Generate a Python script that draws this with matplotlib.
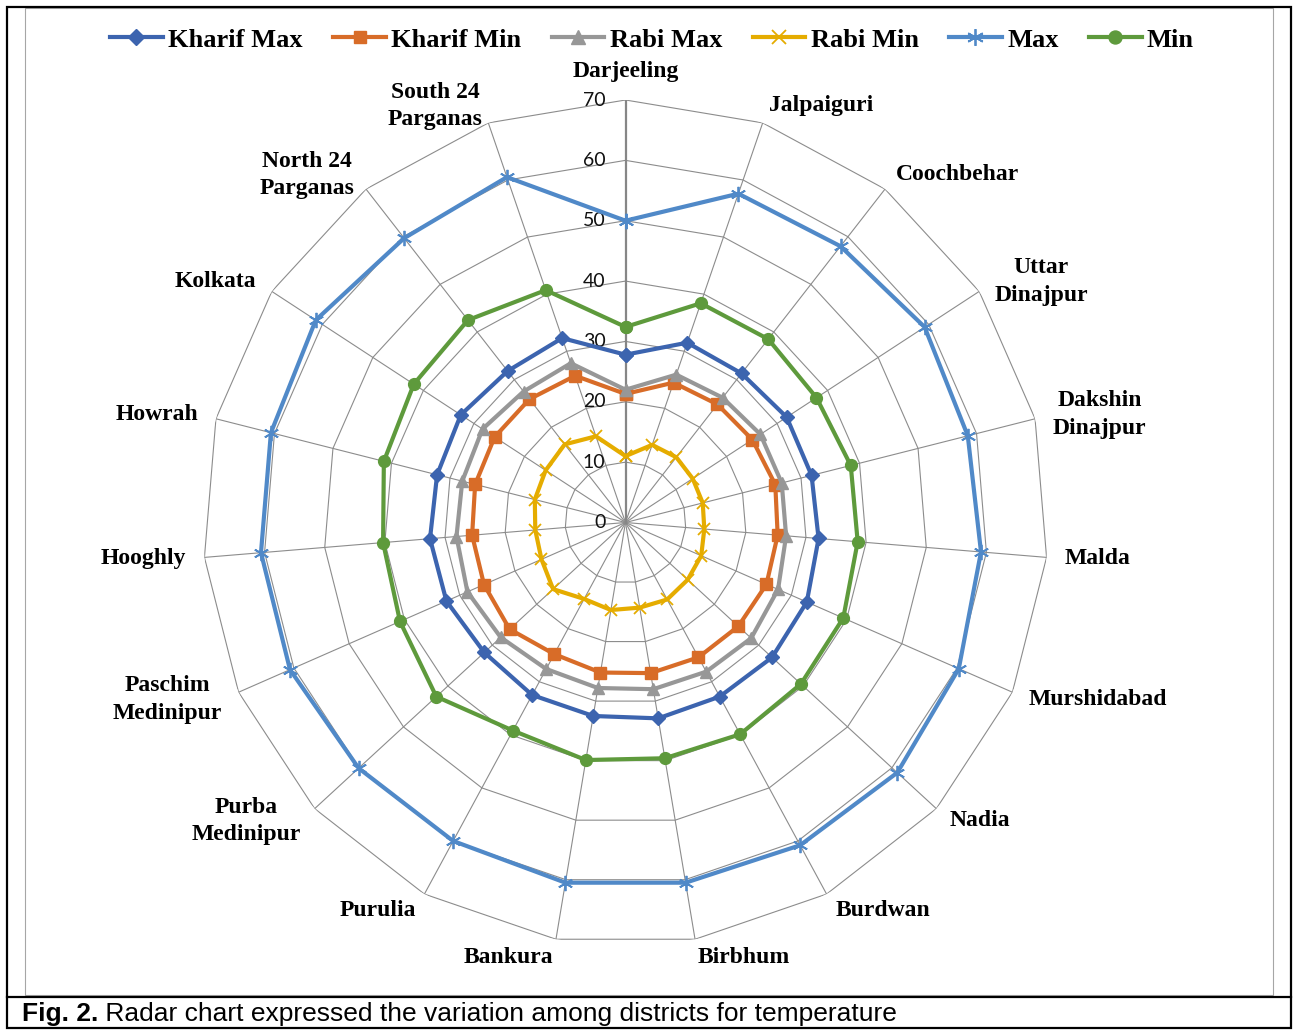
import numpy as np
import matplotlib
matplotlib.use("Agg")
import matplotlib.pyplot as plt
from matplotlib.patches import Rectangle
from matplotlib.transforms import ScaledTranslation

districts = ['Darjeeling', 'Jalpaiguri', 'Coochbehar', 'Uttar\nDinajpur', 'Dakshin\nDinajpur',
             'Malda', 'Murshidabad', 'Nadia', 'Burdwan', 'Birbhum', 'Bankura', 'Purulia',
             'Purba\nMedinipur', 'Paschim\nMedinipur', 'Hooghly', 'Howrah', 'Kolkata',
             'North 24\nParganas', 'South 24\nParganas']

kharif_max = [27.8, 31.5, 31.3, 31.9, 31.8, 32.1, 32.8, 33.0, 32.8, 32.9, 32.5, 32.5, 31.8, 32.4, 32.5, 32.2, 32.6, 31.8, 32.3]
kharif_min = [21.3, 24.5, 24.8, 25.1, 25.6, 25.3, 25.5, 25.4, 25.4, 25.3, 25.2, 24.8, 26.1, 25.6, 25.5, 25.7, 25.9, 25.9, 25.7]
rabi_max = [22.0, 25.9, 26.2, 26.7, 26.7, 26.7, 27.6, 28.3, 28.1, 28.0, 27.8, 27.6, 28.1, 28.6, 28.1, 27.9, 28.3, 27.5, 27.9]
rabi_min = [11.0, 13.6, 13.7, 13.3, 13.2, 13.1, 13.7, 14.0, 14.5, 14.3, 14.7, 14.4, 16.3, 15.2, 15.0, 15.5, 15.8, 16.4, 15.1]
max_all = [50.0, 57.6, 58.0, 59.2, 58.5, 59.1, 60.3, 61.2, 60.8, 60.5, 60.5, 60.0, 60.1, 60.7, 60.6, 60.6, 61.3, 59.7, 60.5]
min_all = [32.4, 38.4, 38.5, 37.8, 38.5, 38.6, 39.4, 39.5, 39.9, 39.6, 39.9, 39.2, 42.6, 40.8, 40.3, 41.3, 41.9, 42.5, 40.7]

series_names = ['Kharif Max', 'Kharif Min', 'Rabi Max', 'Rabi Min', 'Max', 'Min']
r_ticks = [0, 10, 20, 30, 40, 50, 60, 70]

series = [kharif_max, kharif_min, rabi_max, rabi_min, max_all, min_all]
colors = ['#3C64AF', '#D86C28', '#979797', '#E5AC00', '#5089C8', '#5E9A3C']
markers = ['D', 's', '^', 'x', (6, 2, 0), 'o']
msizes = [7, 8.5, 9, 9, 11, 8.5]

W, H = 1298, 1030
fig = plt.figure(figsize=(W / 100, H / 100), dpi=100)
fig.patch.set_facecolor('white')

cx, cy, R = 625.5, 522.5, 422.5
ax = fig.add_axes([(cx - R) / W, (H - cy - R) / H, 2 * R / W, 2 * R / H], projection='polar')
ax.set_theta_zero_location('N')
ax.set_theta_direction(-1)
ax.set_ylim(0, 70)
ax.grid(False)
ax.set_xticks([])
ax.set_yticks([])
ax.spines['polar'].set_visible(False)
ax.patch.set_visible(False)

n = len(districts)
theta = np.arange(n) * 2 * np.pi / n
theta_c = np.append(theta, theta[0])

gcol = '#8C8C8C'
for rv in r_ticks[1:]:
    ax.plot(theta_c, [rv] * (n + 1), color=gcol, lw=0.8, zorder=1)
for i, t in enumerate(theta):
    if i == 0:
        ax.plot([t, t], [0, 70], color='#868686', lw=1.6, zorder=1.5)
    else:
        ax.plot([t, t], [0, 70], color=gcol, lw=0.8, zorder=1)

off = ScaledTranslation(-20 / 100, 0, fig.dpi_scale_trans)
for rv in r_ticks:
    ax.text(0, rv, str(rv), ha='right', va='center', fontsize=14, family='Lato',
            color='#111111', transform=ax.transData + off, zorder=3)

handles = []
for i, (vals, c, m, ms, nm) in enumerate(zip(series, colors, markers, msizes, series_names)):
    v = np.append(vals, vals[0])
    mew = 1.3 if m in ('x', (6, 2, 0)) else 1
    h, = ax.plot(theta_c, v, color=c, lw=3.0, marker=m, markersize=ms,
                 markerfacecolor=c, markeredgecolor=c, markeredgewidth=mew,
                 label=nm, zorder=4 + i, clip_on=False)
    handles.append(h)

for t, name in zip(theta, districts):
    s, c = np.sin(t), np.cos(t)
    if abs(s) < 0.05:
        ha = 'center'
    elif s > 0:
        ha = 'left'
    else:
        ha = 'right'
    va = 'bottom' if (abs(s) < 0.05 and c > 0) else 'center'
    ax.text(t, 73, name, ha=ha, va=va, multialignment='center', fontsize=17,
            family='Liberation Serif', fontweight='bold', linespacing=1.4, zorder=3)

leg = fig.legend(handles=handles, loc='center', bbox_to_anchor=(652 / W, 1 - 40 / H),
                 ncol=6, frameon=False, numpoints=1, handlelength=2.0, handletextpad=0.2,
                 columnspacing=1.15, markerscale=1.1,
                 prop={'family': 'Liberation Serif', 'weight': 'bold', 'size': 19})

# frames
def px_rect(x0, y0, x1, y1, **kw):
    fig.add_artist(Rectangle((x0 / W, 1 - y1 / H), (x1 - x0) / W, (y1 - y0) / H,
                             transform=fig.transFigure, fill=False, **kw))

px_rect(25, 8, 1273, 995, edgecolor='#A6A6A6', lw=0.8)
px_rect(7, 7, 1291, 1028, edgecolor='black', lw=1.6)
fig.add_artist(plt.Line2D([7 / W, 1291 / W], [1 - 997 / H, 1 - 997 / H],
                          transform=fig.transFigure, color='black', lw=1.6))

t1 = fig.text(22 / W, 1 - 1014 / H, 'Fig. 2.', ha='left', va='center', fontsize=19,
              family='Liberation Sans', fontweight='bold')
ax.annotate(' Radar chart expressed the variation among districts for temperature',
            xy=(1, 0.5), xycoords=t1, ha='left', va='center', fontsize=19,
            family='Liberation Sans', annotation_clip=False)

fig.savefig('out.png', dpi=100, facecolor='white')
